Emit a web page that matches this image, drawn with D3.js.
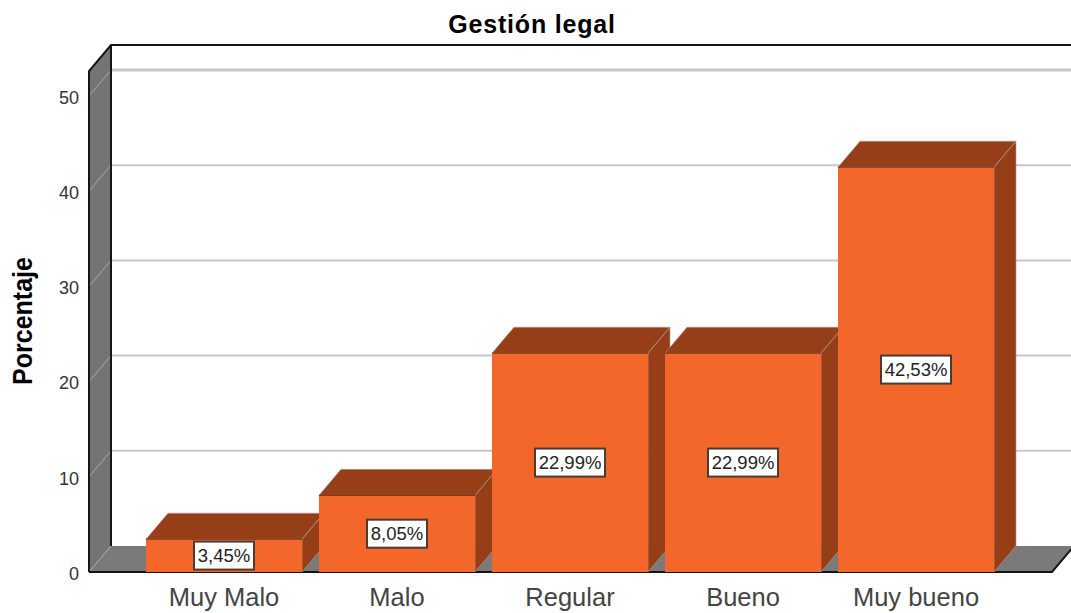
<!DOCTYPE html>
<html>
<head>
<meta charset="utf-8">
<script src="https://cdn.jsdelivr.net/npm/d3@7"></script>
<style>
  html, body { margin: 0; padding: 0; background: #fff; overflow: hidden; }
  text { font-family: "Liberation Sans", Arial, sans-serif; }
</style>
</head>
<body>
<div id="chart"></div>
<script>
const categories = ["Muy Malo", "Malo", "Regular", "Bueno", "Muy bueno"];
const percentages = [3.45, 8.05, 22.99, 22.99, 42.53];
const percentLabels = ["3,45%", "8,05%", "22,99%", "22,99%", "42,53%"];
const yTicks = [0, 10, 20, 30, 40, 50];
const yMax = 52.63;

const dimensions = {
  width: 1071,
  height: 613,
  left: 89,
  right: 1052,
  top: 71,
  bottom: 572,
  depthX: 22,
  depthY: 26,
};

const svg = d3
  .select("#chart")
  .append("svg")
  .attr("width", dimensions.width)
  .attr("height", dimensions.height)
  .style("display", "block");

const xScale = d3
  .scaleBand()
  .domain(categories)
  .range([137.5, 1002.5])
  .paddingInner(0.098)
  .paddingOuter(0.049);

const yScale = d3
  .scaleLinear()
  .domain([0, yMax])
  .range([dimensions.bottom, dimensions.top]);

const dx = dimensions.depthX;
const dy = dimensions.depthY;
const poly = (pts) => pts.map((p) => p.join(",")).join(" ");

// Left wall and floor
svg
  .append("polygon")
  .attr(
    "points",
    poly([
      [dimensions.left, dimensions.top],
      [dimensions.left + dx, dimensions.top - dy],
      [dimensions.left + dx, dimensions.bottom - dy],
      [dimensions.left, dimensions.bottom],
    ])
  )
  .attr("fill", "#747474");

svg
  .append("polygon")
  .attr(
    "points",
    poly([
      [dimensions.left, dimensions.bottom],
      [dimensions.left + dx, dimensions.bottom - dy],
      [dimensions.right + dx, dimensions.bottom - dy],
      [dimensions.right, dimensions.bottom],
    ])
  )
  .attr("fill", "#7a7a7a");

// Gridlines
const gridTicks = yTicks.filter((d) => d > 0);

svg
  .selectAll(".grid-back")
  .data(gridTicks)
  .join("line")
  .attr("class", "grid-back")
  .attr("x1", dimensions.left + dx)
  .attr("x2", dimensions.width)
  .attr("y1", (d) => yScale(d) - dy)
  .attr("y2", (d) => yScale(d) - dy)
  .attr("stroke", "#c8c8c8")
  .attr("stroke-width", (d) => (d === 50 ? 3 : 2));

svg
  .selectAll(".grid-side")
  .data(yTicks)
  .join("line")
  .attr("class", "grid-side")
  .attr("x1", dimensions.left)
  .attr("x2", dimensions.left + dx)
  .attr("y1", (d) => yScale(d))
  .attr("y2", (d) => yScale(d) - dy)
  .attr("stroke", "#a8a8a8")
  .attr("stroke-width", 1);

// Frame
const frame = svg
  .append("g")
  .attr("fill", "none")
  .attr("stroke", "#151515")
  .attr("stroke-width", 2);

frame
  .append("path")
  .attr(
    "d",
    `M${dimensions.left},${dimensions.bottom}V${dimensions.top}` +
      `L${dimensions.left + dx},${dimensions.top - dy}H${dimensions.width}`
  );
frame
  .append("path")
  .attr(
    "d",
    `M${dimensions.left + dx},${dimensions.top - dy}V${dimensions.bottom - dy}`
  );
frame
  .append("path")
  .attr(
    "d",
    `M${dimensions.left},${dimensions.bottom}H${dimensions.right}` +
      `L${dimensions.right + dx},${dimensions.bottom - dy}`
  );

// Bars
const bars = svg
  .selectAll(".bar")
  .data(categories.map((c, i) => ({ c, v: percentages[i], label: percentLabels[i] })))
  .join("g")
  .attr("class", "bar");

bars
  .append("polygon")
  .attr("points", (d) => {
    const x0 = xScale(d.c);
    const x1 = x0 + xScale.bandwidth();
    const yT = yScale(d.v);
    return poly([
      [x0, yT],
      [x0 + dx, yT - dy],
      [x1 + dx, yT - dy],
      [x1, yT],
    ]);
  })
  .attr("fill", "#963e17")
  .attr("stroke", "#a5a5a5")
  .attr("stroke-width", 0.6);

bars
  .append("polygon")
  .attr("points", (d) => {
    const x1 = xScale(d.c) + xScale.bandwidth();
    const yT = yScale(d.v);
    return poly([
      [x1, yT],
      [x1 + dx, yT - dy],
      [x1 + dx, dimensions.bottom - dy],
      [x1, dimensions.bottom],
    ]);
  })
  .attr("fill", "#963e17")
  .attr("stroke", "#a5a5a5")
  .attr("stroke-width", 0.6);

bars
  .append("rect")
  .attr("x", (d) => xScale(d.c))
  .attr("y", (d) => yScale(d.v))
  .attr("width", xScale.bandwidth())
  .attr("height", (d) => dimensions.bottom - yScale(d.v))
  .attr("fill", "#f4672a");

// dark edge along the top of the front face
bars
  .append("line")
  .attr("x1", (d) => xScale(d.c))
  .attr("x2", (d) => xScale(d.c) + xScale.bandwidth())
  .attr("y1", (d) => yScale(d.v))
  .attr("y2", (d) => yScale(d.v))
  .attr("stroke", "#6f2e10")
  .attr("stroke-width", 1);

// Value labels
const boxH = 28;
bars
  .append("rect")
  .attr("x", (d) => xScale(d.c) + xScale.bandwidth() / 2 - (d.label.length > 5 ? 35 : 30))
  .attr("y", (d) => (yScale(d.v) + dimensions.bottom) / 2 - boxH / 2)
  .attr("width", (d) => (d.label.length > 5 ? 70 : 60))
  .attr("height", boxH)
  .attr("fill", "#fff")
  .attr("stroke", "#4a3b33")
  .attr("stroke-width", 2);

bars
  .append("text")
  .attr("x", (d) => xScale(d.c) + xScale.bandwidth() / 2)
  .attr("y", (d) => (yScale(d.v) + dimensions.bottom) / 2)
  .attr("dy", "0.36em")
  .attr("text-anchor", "middle")
  .attr("font-size", 18.5)
  .attr("fill", "#222")
  .text((d) => d.label);

// Axes
const yAxis = d3.axisLeft(yScale).tickValues(yTicks).tickSize(0).tickPadding(10);
const yAxisG = svg
  .append("g")
  .attr("transform", `translate(${dimensions.left}, 1.5)`)
  .call(yAxis);
yAxisG.select(".domain").remove();
yAxisG.selectAll("text").attr("font-size", 18).attr("fill", "#333");

const xAxis = d3.axisBottom(xScale).tickSize(0).tickPadding(16);
const xAxisG = svg
  .append("g")
  .attr("transform", `translate(0, ${dimensions.bottom})`)
  .call(xAxis);
xAxisG.select(".domain").remove();
xAxisG.selectAll("text").attr("font-size", 25.5).attr("fill", "#444");

// Titles
svg
  .append("text")
  .attr("x", 532)
  .attr("y", 33)
  .attr("text-anchor", "middle")
  .attr("font-size", 25)
  .attr("letter-spacing", 0.8)
  .attr("font-weight", "bold")
  .attr("fill", "#000")
  .text("Gestión legal");

svg
  .append("text")
  .attr("transform", "translate(31.5, 321) rotate(-90) scale(1, 1.12)")
  .attr("text-anchor", "middle")
  .attr("font-size", 25)
  .attr("font-weight", "bold")
  .attr("fill", "#000")
  .text("Porcentaje");
</script>
</body>
</html>
